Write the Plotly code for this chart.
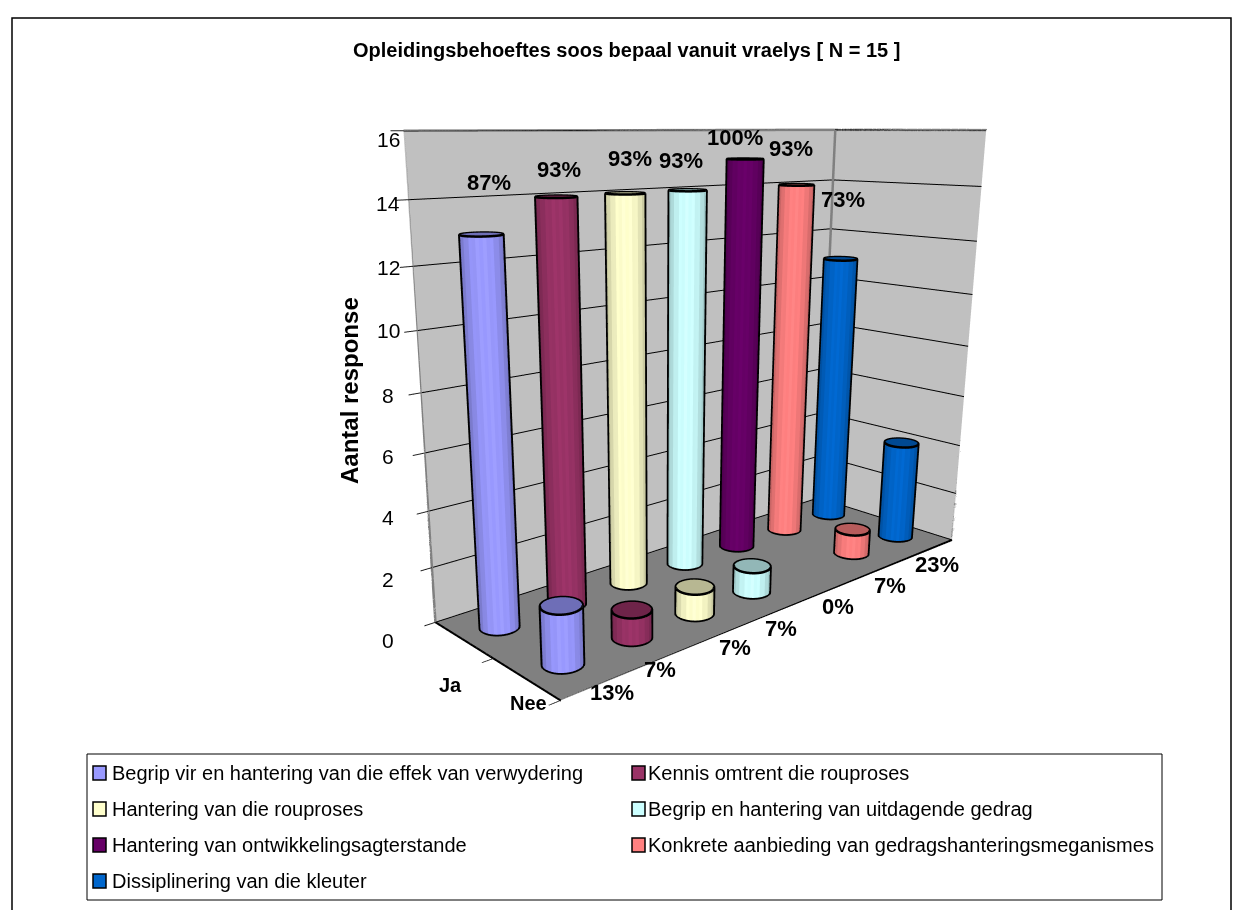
import math
import numpy as np
import plotly.graph_objects as go

TITLE = "Opleidingsbehoeftes soos bepaal vanuit vraelys [ N = 15 ]"
Y_TITLE = "Aantal response"
CATEGORIES = ["Ja", "Nee"]
SERIES = [
    "Begrip vir en hantering van die effek van verwydering",
    "Kennis omtrent die rouproses",
    "Hantering van die rouproses",
    "Begrip en hantering van uitdagende gedrag",
    "Hantering van ontwikkelingsagterstande",
    "Konkrete aanbieding van gedragshanteringsmeganismes",
    "Dissiplinering van die kleuter",
]
COLORS = ["#9999FF", "#993366", "#FFFFCC", "#CCFFFF", "#660066", "#FF8080", "#0066CC"]
JA = [13, 14, 14, 14, 15, 14, 11]
NEE = [2, 1, 1, 1, 0, 1, 4]
JA_PCT = ["87%", "93%", "93%", "93%", "100%", "93%", "73%"]
NEE_PCT = ["13%", "7%", "7%", "7%", "0%", "7%", "23%"]
Z_TICKS = [0, 2, 4, 6, 8, 10, 12, 14, 16]

# label placement on the page
JA_LABEL_XY = [(489, 183), (559, 169), (630, 159), (681, 160), (735, 138), (791, 149), (843, 199)]
NEE_LABEL_XY = [(612, 692), (660, 669), (735, 647), (781, 628), (838, 606), (890, 585), (937, 564)]
CAT_LABEL_XY = [(450, 685), (528, 703)]
ZTICK_LABEL_XY = [(388, 640), (388, 579), (388, 517), (388, 456), (388, 395), (388, 331), (388, 268), (388, 204), (388, 140)]

XR = (-0.5, 1.5)
YR = (-0.5, 6.5)
ZR = (0, 16)

W, H = 1242, 910
ASPECT = dict(x=0.4445, y=1.2386, z=1.0)
EYE = dict(x=1.6912, y=-1.6767, z=0.5058)
CENTER = dict(x=0.1902, y=-0.3497, z=-0.1062)
SCENE_CX = 659.16
DOM = [2 * (SCENE_CX - 8) / W - 1, 1.0]
RADIUS = 0.040
N = 36
FONT = "Liberation Sans"

sx = ASPECT["x"] / (XR[1] - XR[0])
sy = ASPECT["y"] / (YR[1] - YR[0])
focal = (H / 2) / math.tan(math.pi / 8)
_e = np.array([EYE["x"], EYE["y"], EYE["z"]])
_fw = np.array([CENTER["x"], CENTER["y"], CENTER["z"]]) - _e
_fw = _fw / np.linalg.norm(_fw)
_r = np.cross(_fw, [0, 0, 1.0])
_r = _r / np.linalg.norm(_r)
_u = np.cross(_r, _fw)


def data_px(x, y, z):
    """Page position of a data point, used only to offset text labels."""
    v = np.array([(x - sum(XR) / 2) * sx, (y - sum(YR) / 2) * sy,
                  (z - sum(ZR) / 2) / (ZR[1] - ZR[0]) * ASPECT["z"]]) - _e
    d = v @ _fw
    return SCENE_CX + focal * (v @ _r) / d, H / 2 + 8 - focal * (v @ _u) / d


def hex_rgb(h):
    return tuple(int(h[i:i + 2], 16) for i in (1, 3, 5))


def shade(rgb, k):
    return "rgb(%d,%d,%d)" % tuple(min(255, int(c * k)) for c in rgb)


traces = []
ox, oy, oz = [], [], []
for s, color in enumerate(COLORS):
    rgb = hex_rgb(color)
    for c, vals in enumerate((JA, NEE)):
        v = vals[s]
        if v <= 0:
            continue
        rx, ry = RADIUS / sx, RADIUS / sy
        X = [c + rx * math.cos(2 * math.pi * k / N) for k in range(N)]
        Y = [s + ry * math.sin(2 * math.pi * k / N) for k in range(N)]
        xs = X + X + [c]
        ys = Y + Y + [s]
        zs = [0] * N + [v] * N + [v]
        i, j, k_, fc = [], [], [], []
        ex = EYE["x"] - (c - sum(XR) / 2) * sx
        ey = EYE["y"] - (s - sum(YR) / 2) * sy
        el = math.hypot(ex, ey)
        ex, ey = ex / el, ey / el
        for k in range(N):
            n = (k + 1) % N
            ang = 2 * math.pi * (k + 0.5) / N
            ff = max(0.0, math.cos(ang) * ex + math.sin(ang) * ey)
            b = 0.74 + 0.28 * ff ** 1.5 + (0.02 if k % 2 else -0.02)
            i += [k, k]; j += [n, n + N]; k_ += [n + N, k + N]
            fc += [shade(rgb, b)] * 2
        for k in range(N):
            n = (k + 1) % N
            i.append(2 * N); j.append(k + N); k_.append(n + N)
            fc.append(shade(rgb, 0.72))
        traces.append(go.Mesh3d(x=xs, y=ys, z=zs, i=i, j=j, k=k_, facecolor=fc,
                                flatshading=True, hoverinfo="skip", showlegend=False,
                                lighting=dict(ambient=1, diffuse=0, specular=0, fresnel=0)))
        g = 1.03
        for z_ in (0, v):
            for k in range(N + 1):
                m = k % N
                ox.append(c + g * (X[m] - c)); oy.append(s + g * (Y[m] - s)); oz.append(z_)
            ox.append(None); oy.append(None); oz.append(None)
        for sgn in (-1, 1):
            ox += [c + g * sgn * ey * rx, c + g * sgn * ey * rx, None]
            oy += [s - g * sgn * ex * ry, s - g * sgn * ex * ry, None]
            oz += [0, v, None]

traces.append(go.Scatter3d(x=ox, y=oy, z=oz, mode="lines", line=dict(color="black", width=5),
                           hoverinfo="skip", showlegend=False, connectgaps=False))

IN = 0.015
wx = [XR[0], XR[0], None, XR[0], XR[1], XR[1], None, XR[0], XR[0], None, XR[0] + IN, XR[0] + IN]
wy = [YR[0], YR[0], None, YR[1], YR[1], YR[1], None, YR[0], YR[1], None, YR[1] - IN, YR[1] - IN]
wz = [ZR[0], ZR[1], None, ZR[1], ZR[1], ZR[0], None, ZR[1], ZR[1], None, ZR[0], ZR[1]]
traces.append(go.Scatter3d(x=wx, y=wy, z=wz, mode="lines", line=dict(color="#808080", width=5),
                           hoverinfo="skip", showlegend=False, connectgaps=False))
traces.append(go.Scatter3d(x=[XR[0], XR[1], XR[1]], y=[YR[0], YR[0], YR[1]], z=[ZR[0]] * 3, mode="lines",
                           line=dict(color="black", width=4), hoverinfo="skip", showlegend=False))

fig = go.Figure(traces)


def label3d(x, y, z, text, xy, size, bold=True):
    hx, hy = data_px(x, y, z)
    return dict(x=x, y=y, z=z, text=("<b>%s</b>" % text) if bold else text, showarrow=False,
                xshift=float(xy[0] - hx), yshift=float(hy - xy[1]),
                font=dict(family=FONT, size=size, color="black"))


ann3d = []
for s in range(len(SERIES)):
    ann3d.append(label3d(0, s, JA[s], JA_PCT[s], JA_LABEL_XY[s], 22))
    ann3d.append(label3d(XR[1], s, 0, NEE_PCT[s], NEE_LABEL_XY[s], 22))
for c, name in enumerate(CATEGORIES):
    ann3d.append(label3d(c, YR[0], 0, name, CAT_LABEL_XY[c], 20))
for t, xy in zip(Z_TICKS, ZTICK_LABEL_XY):
    ann3d.append(label3d(XR[0], YR[0], t, str(t), xy, 21, bold=False))

axis_common = dict(title=dict(text=""), showticklabels=False, showgrid=False, zeroline=False,
                   showspikes=False, showbackground=True, showline=False)


def px(x): return (x - 8) / W
def py(y): return 1 - (y - 8) / H


shapes = [
    dict(type="rect", xref="paper", yref="paper", x0=px(12), x1=px(1231), y0=py(18), y1=py(925),
         line=dict(color="black", width=1.5), fillcolor="rgba(0,0,0,0)"),
    dict(type="rect", xref="paper", yref="paper", x0=px(87), x1=px(1162), y0=py(754), y1=py(900),
         line=dict(color="black", width=1), fillcolor="white"),
]
annotations = [
    dict(xref="paper", yref="paper", x=px(626), y=py(50), text="<b>%s</b>" % TITLE, showarrow=False,
         font=dict(family=FONT, size=20, color="black"), xanchor="center", yanchor="middle"),
    dict(xref="paper", yref="paper", x=px(349), y=py(391), text="<b>%s</b>" % Y_TITLE, showarrow=False,
         textangle=-90, font=dict(family=FONT, size=24, color="black"), xanchor="center", yanchor="middle"),
]
for idx, (name, color) in enumerate(zip(SERIES, COLORS)):
    col, row = idx % 2, idx // 2
    x_sw = 93 if col == 0 else 632
    y_c = 773 + 36 * row
    shapes.append(dict(type="rect", xref="paper", yref="paper", x0=px(x_sw), x1=px(x_sw + 13),
                       y0=py(y_c - 7), y1=py(y_c + 7), line=dict(color="black", width=1.5), fillcolor=color))
    annotations.append(dict(xref="paper", yref="paper", x=px(x_sw + (17 if col == 0 else 14)), y=py(y_c), text=name,
                            showarrow=False, xanchor="left", yanchor="middle",
                            font=dict(family=FONT, size=20, color="black")))

fig.update_layout(
    width=W, height=H, margin=dict(l=0, r=0, t=0, b=0), paper_bgcolor="white", showlegend=False,
    shapes=shapes, annotations=annotations,
    scene=dict(
        domain=dict(x=DOM, y=[0.0, 1.0]),
        aspectmode="manual", aspectratio=ASPECT,
        camera=dict(eye=EYE, up=dict(x=0, y=0, z=1), center=CENTER,
                    projection=dict(type="perspective")),
        xaxis=dict(range=list(XR), backgroundcolor="#C0C0C0", tickvals=[0.5, 1.5], ticks="outside",
                   ticklen=10, tickcolor="#202020", tickwidth=2, **axis_common),
        yaxis=dict(range=list(YR), backgroundcolor="#C0C0C0", ticks="", **axis_common),
        zaxis=dict(range=list(ZR), backgroundcolor="#808080", title=dict(text=""), tickvals=Z_TICKS, ticks="outside",
                   ticklen=10, tickcolor="#202020", tickwidth=2, showgrid=True, gridcolor="black", gridwidth=2,
                   showticklabels=False, zeroline=False, showspikes=False, showbackground=True, showline=False),
        annotations=ann3d,
    ),
)
fig.write_html("out.html")
